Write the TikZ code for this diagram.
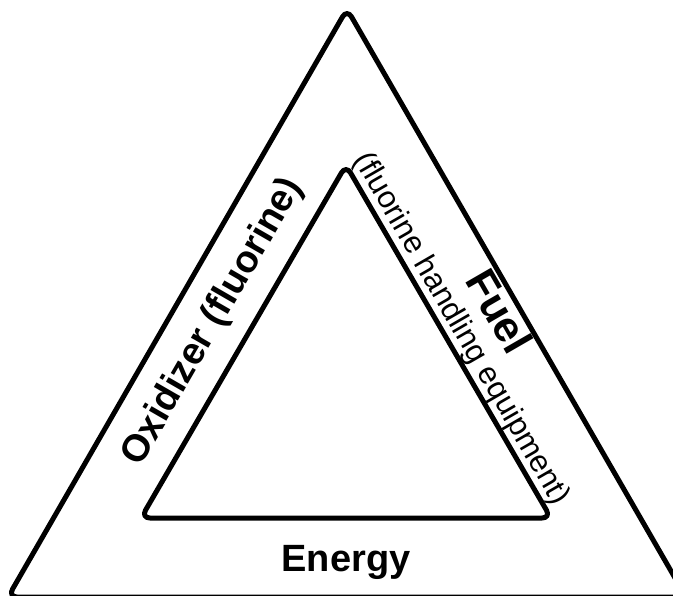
\documentclass[tikz,border=0pt]{standalone}
\usepackage{fontspec}
\setmainfont{Liberation Sans}
\usepackage{tikz}

\tikzset{
    side/.style={line width=5pt, rounded corners=9pt, line join=round},
    lbl/.style={inner sep=0pt, anchor=center}
}

\begin{document}
\begin{tikzpicture}[x=1pt,y=1pt]
                \clip (0,0) rectangle (673,-596);
                \useasboundingbox (0,0) rectangle (673,-596);
                \draw[side] (347,-9) -- (686,-597) -- (8,-597) -- cycle;
                \draw[side] (346,-165) -- (551,-518) -- (141,-518) -- cycle;
                \node[lbl, font=\bfseries\fontsize{38}{38}\selectfont] (energy) at (346,-562) {Energy};
                \node[lbl, rotate=60, font=\bfseries\fontsize{38}{38}\selectfont] (oxid) at (213,-322) {Oxidizer (fluorine)};
                \node[lbl, rotate=-60, font=\bfseries\fontsize{43}{43}\selectfont] (fuel) at (500,-311) {Fuel};
                \node[lbl, rotate=-60, font=\fontsize{31}{31}\selectfont] (equip) at (461,-329) {(fluorine handling equipment)};
            \end{tikzpicture}
\end{document}
